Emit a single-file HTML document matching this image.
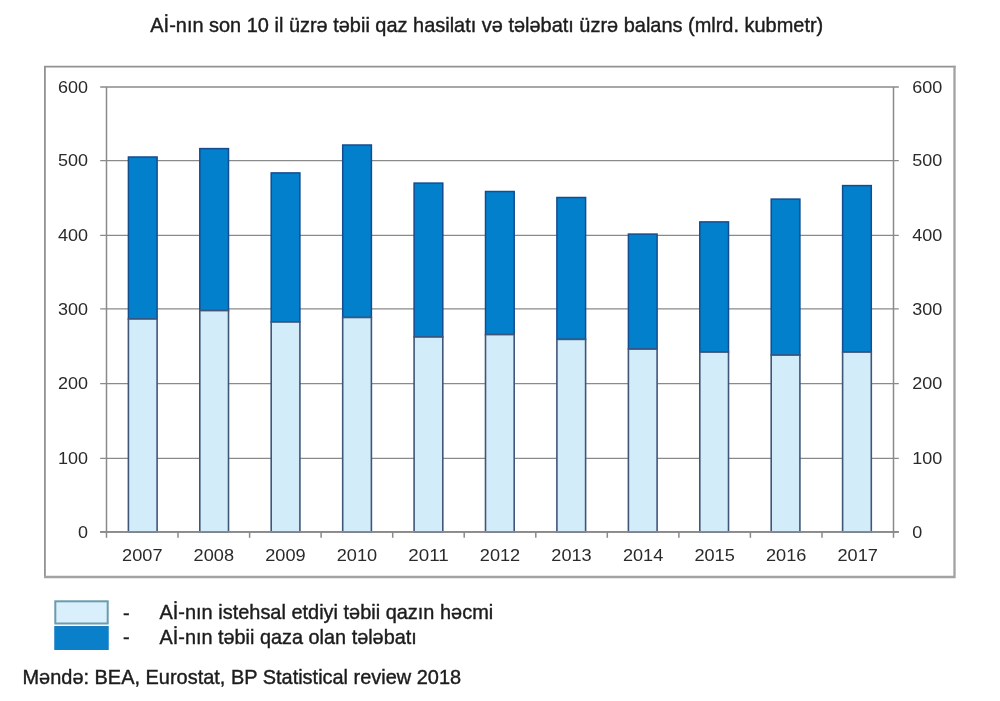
<!DOCTYPE html>
<html lang="az">
<head>
<meta charset="utf-8">
<title>Aİ-nın təbii qaz balansı</title>
<style>
html,body{margin:0;padding:0;background:#fff;}
body{width:1000px;height:701px;overflow:hidden;position:relative;font-family:"Liberation Sans",Arial,sans-serif;color:#1a1a1a;}
svg{position:absolute;left:0;top:0;display:block;}
svg text{font-family:"Liberation Sans",Arial,sans-serif;fill:#2a2a2a;}
svg text.h{fill:#1c1c1c;stroke:#1c1c1c;stroke-width:0.4px;}
</style>
</head>
<body>
<svg width="1000" height="701" viewBox="0 0 1000 701">
<rect x="44.9" y="66.6" width="909.6" height="510.4" fill="#fff" stroke="none"/>
<path d="M44.9 578.1 V66.6 H955.6" fill="none" stroke="#929292" stroke-width="1.8"/>
<path d="M954.5 65.7 V577 H44" fill="none" stroke="#a2a2a2" stroke-width="2.3"/>
<line x1="100.2" y1="531.80" x2="898.8" y2="531.80" stroke="#8a8a8a" stroke-width="1.7"/>
<line x1="100.2" y1="458.40" x2="898.8" y2="458.40" stroke="#8a8a8a" stroke-width="1.25"/>
<line x1="100.2" y1="383.50" x2="898.8" y2="383.50" stroke="#8a8a8a" stroke-width="1.25"/>
<line x1="100.2" y1="308.75" x2="898.8" y2="308.75" stroke="#8a8a8a" stroke-width="1.25"/>
<line x1="100.2" y1="235.35" x2="898.8" y2="235.35" stroke="#8a8a8a" stroke-width="1.25"/>
<line x1="100.2" y1="160.50" x2="898.8" y2="160.50" stroke="#8a8a8a" stroke-width="1.25"/>
<line x1="100.2" y1="87.00" x2="898.8" y2="87.00" stroke="#8a8a8a" stroke-width="1.7"/>
<line x1="106.5" y1="87.0" x2="106.5" y2="537.8" stroke="#8a8a8a" stroke-width="1.5"/>
<line x1="893.5" y1="87.0" x2="893.5" y2="537.8" stroke="#8a8a8a" stroke-width="1.5"/>
<line x1="178.0" y1="531.8" x2="178.0" y2="537.8" stroke="#8a8a8a" stroke-width="1.5"/>
<line x1="249.6" y1="531.8" x2="249.6" y2="537.8" stroke="#8a8a8a" stroke-width="1.5"/>
<line x1="321.1" y1="531.8" x2="321.1" y2="537.8" stroke="#8a8a8a" stroke-width="1.5"/>
<line x1="392.7" y1="531.8" x2="392.7" y2="537.8" stroke="#8a8a8a" stroke-width="1.5"/>
<line x1="464.2" y1="531.8" x2="464.2" y2="537.8" stroke="#8a8a8a" stroke-width="1.5"/>
<line x1="535.8" y1="531.8" x2="535.8" y2="537.8" stroke="#8a8a8a" stroke-width="1.5"/>
<line x1="607.3" y1="531.8" x2="607.3" y2="537.8" stroke="#8a8a8a" stroke-width="1.5"/>
<line x1="678.9" y1="531.8" x2="678.9" y2="537.8" stroke="#8a8a8a" stroke-width="1.5"/>
<line x1="750.4" y1="531.8" x2="750.4" y2="537.8" stroke="#8a8a8a" stroke-width="1.5"/>
<line x1="822.0" y1="531.8" x2="822.0" y2="537.8" stroke="#8a8a8a" stroke-width="1.5"/>
<rect x="128.4" y="157.0" width="28.7" height="162.0" fill="#0280cb" stroke="#144c90" stroke-width="1.5"/>
<rect x="128.4" y="319.0" width="28.7" height="212.8" fill="#d3ecfa" stroke="#405679" stroke-width="1.6"/>
<rect x="199.8" y="148.6" width="28.7" height="162.0" fill="#0280cb" stroke="#144c90" stroke-width="1.5"/>
<rect x="199.8" y="310.6" width="28.7" height="221.2" fill="#d3ecfa" stroke="#405679" stroke-width="1.6"/>
<rect x="271.2" y="172.9" width="28.7" height="149.1" fill="#0280cb" stroke="#144c90" stroke-width="1.5"/>
<rect x="271.2" y="322.0" width="28.7" height="209.8" fill="#d3ecfa" stroke="#405679" stroke-width="1.6"/>
<rect x="342.7" y="145.0" width="28.7" height="172.5" fill="#0280cb" stroke="#144c90" stroke-width="1.5"/>
<rect x="342.7" y="317.5" width="28.7" height="214.3" fill="#d3ecfa" stroke="#405679" stroke-width="1.6"/>
<rect x="414.1" y="183.1" width="28.7" height="153.9" fill="#0280cb" stroke="#144c90" stroke-width="1.5"/>
<rect x="414.1" y="337.0" width="28.7" height="194.8" fill="#d3ecfa" stroke="#405679" stroke-width="1.6"/>
<rect x="485.5" y="191.5" width="28.7" height="143.1" fill="#0280cb" stroke="#144c90" stroke-width="1.5"/>
<rect x="485.5" y="334.6" width="28.7" height="197.2" fill="#d3ecfa" stroke="#405679" stroke-width="1.6"/>
<rect x="556.9" y="197.5" width="28.7" height="141.9" fill="#0280cb" stroke="#144c90" stroke-width="1.5"/>
<rect x="556.9" y="339.4" width="28.7" height="192.4" fill="#d3ecfa" stroke="#405679" stroke-width="1.6"/>
<rect x="628.4" y="234.1" width="28.7" height="115.0" fill="#0280cb" stroke="#144c90" stroke-width="1.5"/>
<rect x="628.4" y="349.1" width="28.7" height="182.7" fill="#d3ecfa" stroke="#405679" stroke-width="1.6"/>
<rect x="699.8" y="221.9" width="28.7" height="130.2" fill="#0280cb" stroke="#144c90" stroke-width="1.5"/>
<rect x="699.8" y="352.1" width="28.7" height="179.7" fill="#d3ecfa" stroke="#405679" stroke-width="1.6"/>
<rect x="771.2" y="199.1" width="28.7" height="156.0" fill="#0280cb" stroke="#144c90" stroke-width="1.5"/>
<rect x="771.2" y="355.1" width="28.7" height="176.7" fill="#d3ecfa" stroke="#405679" stroke-width="1.6"/>
<rect x="842.6" y="185.6" width="28.7" height="166.5" fill="#0280cb" stroke="#144c90" stroke-width="1.5"/>
<rect x="842.6" y="352.1" width="28.7" height="179.7" fill="#d3ecfa" stroke="#405679" stroke-width="1.6"/>
<line x1="100.2" y1="531.80" x2="898.8" y2="531.80" stroke="#8a8a8a" stroke-width="1.7"/>
<text x="88.0" y="537.6" font-size="16.6" text-anchor="end" textLength="10.0" lengthAdjust="spacingAndGlyphs">0</text>
<text x="912.2" y="537.6" font-size="16.6" textLength="10.0" lengthAdjust="spacingAndGlyphs">0</text>
<text x="88.0" y="464.2" font-size="16.6" text-anchor="end" textLength="30.0" lengthAdjust="spacingAndGlyphs">100</text>
<text x="912.2" y="464.2" font-size="16.6" textLength="30.0" lengthAdjust="spacingAndGlyphs">100</text>
<text x="88.0" y="389.3" font-size="16.6" text-anchor="end" textLength="30.0" lengthAdjust="spacingAndGlyphs">200</text>
<text x="912.2" y="389.3" font-size="16.6" textLength="30.0" lengthAdjust="spacingAndGlyphs">200</text>
<text x="88.0" y="314.6" font-size="16.6" text-anchor="end" textLength="30.0" lengthAdjust="spacingAndGlyphs">300</text>
<text x="912.2" y="314.6" font-size="16.6" textLength="30.0" lengthAdjust="spacingAndGlyphs">300</text>
<text x="88.0" y="241.2" font-size="16.6" text-anchor="end" textLength="30.0" lengthAdjust="spacingAndGlyphs">400</text>
<text x="912.2" y="241.2" font-size="16.6" textLength="30.0" lengthAdjust="spacingAndGlyphs">400</text>
<text x="88.0" y="166.3" font-size="16.6" text-anchor="end" textLength="30.0" lengthAdjust="spacingAndGlyphs">500</text>
<text x="912.2" y="166.3" font-size="16.6" textLength="30.0" lengthAdjust="spacingAndGlyphs">500</text>
<text x="88.0" y="92.8" font-size="16.6" text-anchor="end" textLength="30.0" lengthAdjust="spacingAndGlyphs">600</text>
<text x="912.2" y="92.8" font-size="16.6" textLength="30.0" lengthAdjust="spacingAndGlyphs">600</text>
<text x="142.3" y="560.5" font-size="16.6" text-anchor="middle" textLength="40.4" lengthAdjust="spacingAndGlyphs">2007</text>
<text x="213.8" y="560.5" font-size="16.6" text-anchor="middle" textLength="40.4" lengthAdjust="spacingAndGlyphs">2008</text>
<text x="285.4" y="560.5" font-size="16.6" text-anchor="middle" textLength="40.4" lengthAdjust="spacingAndGlyphs">2009</text>
<text x="356.9" y="560.5" font-size="16.6" text-anchor="middle" textLength="40.4" lengthAdjust="spacingAndGlyphs">2010</text>
<text x="428.5" y="560.5" font-size="16.6" text-anchor="middle" textLength="40.4" lengthAdjust="spacingAndGlyphs">2011</text>
<text x="500.0" y="560.5" font-size="16.6" text-anchor="middle" textLength="40.4" lengthAdjust="spacingAndGlyphs">2012</text>
<text x="571.5" y="560.5" font-size="16.6" text-anchor="middle" textLength="40.4" lengthAdjust="spacingAndGlyphs">2013</text>
<text x="643.1" y="560.5" font-size="16.6" text-anchor="middle" textLength="40.4" lengthAdjust="spacingAndGlyphs">2014</text>
<text x="714.6" y="560.5" font-size="16.6" text-anchor="middle" textLength="40.4" lengthAdjust="spacingAndGlyphs">2015</text>
<text x="786.2" y="560.5" font-size="16.6" text-anchor="middle" textLength="40.4" lengthAdjust="spacingAndGlyphs">2016</text>
<text x="857.7" y="560.5" font-size="16.6" text-anchor="middle" textLength="40.4" lengthAdjust="spacingAndGlyphs">2017</text>
<rect x="55.3" y="601.3" width="52.4" height="22.2" fill="#d9effb" stroke="#6a9bb0" stroke-width="2"/>
<rect x="54.8" y="626.5" width="53.4" height="23" fill="#0a80cb" stroke="#1a7cc0" stroke-width="1"/>
<text class="h" transform="translate(150.3,32.0) scale(1,1.035)" font-size="19.95">Aİ-nın son 10 il üzrə təbii qaz hasilatı və tələbatı üzrə balans (mlrd. kubmetr)</text>
<text class="h" transform="translate(123.0,619.6) scale(1,1.035)" font-size="19.95">-</text>
<text class="h" transform="translate(159.5,619) scale(1,1.035)" font-size="19.95">Aİ-nın istehsal etdiyi təbii qazın həcmi</text>
<text class="h" transform="translate(123.0,644.4) scale(1,1.035)" font-size="19.95">-</text>
<text class="h" transform="translate(159.5,644.3) scale(1,1.035)" font-size="19.95" textLength="257.3" lengthAdjust="spacingAndGlyphs">Aİ-nın təbii qaza olan tələbatı</text>
<text class="h" transform="translate(22.5,684.4) scale(1,1.035)" font-size="19.95">Məndə: BEA, Eurostat, BP Statistical review 2018</text>
</svg>
</body>
</html>
